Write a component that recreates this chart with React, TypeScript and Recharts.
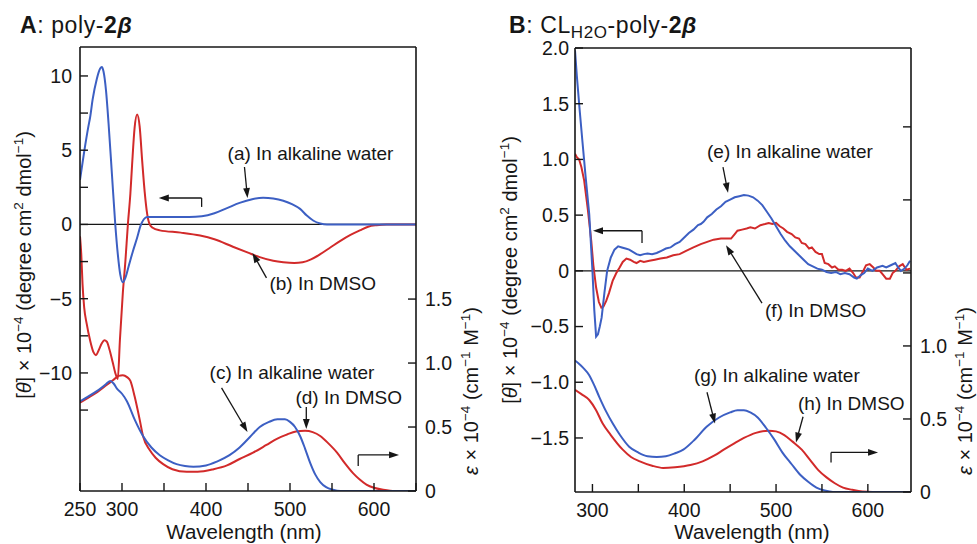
import React from "react";
import {
  ComposedChart,
  Line,
  XAxis,
  YAxis,
  ReferenceLine,
  ReferenceDot,
} from "recharts";

const FONT = '"Liberation Sans", Arial, Helvetica, sans-serif';
const BLUE = "#3c5fc3";
const RED = "#d22a2a";
const INK = "#161616";

type Pt = [number, number];

// ---- panel A: poly-2β ----
// CD, left axis ([θ] x 1e-4)
const cdWaterA: Pt[] = [
  [250, 3.0], [255, 4.9], [260, 6.6], [262, 7.2], [265, 8.4], [270, 9.8], [274, 10.5],
  [276, 10.6], [278, 10.3], [281, 9.0], [284, 6.8], [288, 3.4], [292, 0], [295, -2.0],
  [298, -3.4], [301, -3.9], [304, -3.6], [308, -2.8], [313, -1.8], [318, -0.9],
  [322, -0.1], [326, 0.35], [330, 0.5], [340, 0.5], [360, 0.5], [380, 0.5], [395, 0.55],
  [410, 0.75], [425, 1.1], [440, 1.45], [455, 1.7], [468, 1.8], [480, 1.75], [492, 1.6],
  [503, 1.35], [512, 1.05], [520, 0.6], [528, 0.25], [536, 0.07], [544, 0], [560, 0],
  [600, 0], [650, 0],
];
const cdDmsoA: Pt[] = [
  [250, -0.8], [251.5, -2.0], [253, -4.0], [255, -5.6], [258, -6.7], [262, -7.8],
  [266, -8.6], [269, -8.8], [272, -8.5], [276, -8.0], [279, -7.8], [282, -7.9],
  [285, -8.4], [289, -9.3], [292, -10.0], [295, -10.4], [297.5, -7.8], [301, -4.6],
  [304, -2.5], [307, 0], [310, 2.1], [312, 4.0], [315, 6.5], [318, 7.4], [321, 6.6],
  [324, 4.3], [327, 2.2], [330, 0.7], [333, 0], [336, -0.2], [345, -0.4], [370, -0.55],
  [393, -0.75], [410, -1.0], [432, -1.5], [450, -1.9], [464, -2.2], [480, -2.45],
  [492, -2.55], [505, -2.6], [515, -2.55], [525, -2.35], [536, -2.0], [548, -1.55],
  [560, -1.1], [572, -0.7], [583, -0.4], [593, -0.15], [603, -0.05], [615, 0], [650, 0],
];
// absorption, right axis (ε x 1e-4)
const uvWaterA: Pt[] = [
  [250, 0.70], [260, 0.74], [270, 0.78], [280, 0.83], [286, 0.86], [290, 0.84],
  [294, 0.80], [300, 0.76], [306, 0.70], [315, 0.56], [325, 0.43], [335, 0.34],
  [345, 0.28], [355, 0.24], [365, 0.21], [375, 0.195], [385, 0.19], [400, 0.20],
  [413, 0.23], [428, 0.28], [440, 0.34], [452, 0.42], [464, 0.50], [475, 0.54],
  [485, 0.56], [494, 0.56], [500, 0.54], [506, 0.50], [512, 0.43], [518, 0.33],
  [524, 0.22], [530, 0.13], [536, 0.07], [543, 0.03], [551, 0.01], [560, 0], [650, 0],
];
const uvDmsoA: Pt[] = [
  [250, 0.69], [260, 0.73], [270, 0.77], [280, 0.82], [290, 0.87], [296, 0.90],
  [301, 0.905], [306, 0.89], [310, 0.86], [315, 0.74], [321, 0.56], [325, 0.43],
  [333, 0.32], [340, 0.26], [349, 0.21], [360, 0.17], [377, 0.15], [390, 0.15],
  [409, 0.17], [425, 0.20], [440, 0.25], [456, 0.30], [472, 0.36], [485, 0.41],
  [496, 0.44], [507, 0.465], [518, 0.47], [527, 0.46], [536, 0.43], [546, 0.37],
  [556, 0.30], [565, 0.22], [575, 0.14], [583, 0.09], [591, 0.05], [600, 0.025],
  [611, 0.01], [625, 0], [650, 0],
];

// ---- panel B: CL(H2O)-poly-2β ----
const cdWaterB: Pt[] = [
  [281, 1.98], [283, 1.75], [286, 1.45], [289, 1.17], [292.5, 0.85], [296.5, 0.51],
  [300, 0], [302, -0.35], [304, -0.59], [306, -0.57], [308, -0.5], [310, -0.42],
  [313, -0.2], [316, 0], [320, 0.12], [324, 0.19], [328, 0.22], [332, 0.21], [336, 0.2],
  [340, 0.19], [344, 0.17], [348, 0.15], [352, 0.14], [356, 0.15], [360, 0.155],
  [365, 0.15], [370, 0.16], [375, 0.18], [380, 0.2], [385, 0.21], [390, 0.24],
  [395, 0.26], [400, 0.3], [405, 0.34], [410, 0.37], [415, 0.41], [418, 0.42],
  [421, 0.44], [425, 0.48], [430, 0.51], [435, 0.55], [440, 0.58], [445, 0.62],
  [450, 0.64], [455, 0.66], [460, 0.67], [465, 0.68], [470, 0.675], [475, 0.66],
  [480, 0.63], [485, 0.59], [490, 0.53], [495, 0.47], [500, 0.40], [505, 0.33],
  [510, 0.27], [515, 0.22], [520, 0.18], [525, 0.14], [530, 0.10], [535, 0.06],
  [540, 0.04], [545, 0.02], [550, 0.01], [555, -0.01], [560, -0.02], [565, -0.01],
  [570, -0.03], [575, -0.02], [580, -0.03], [585, -0.06], [588, -0.07], [592, -0.04],
  [596, -0.02], [600, 0.02], [605, 0.0], [610, 0.03], [616, 0.045], [620, 0.03],
  [625, 0.05], [630, 0.07], [633, 0.03], [636, 0.0], [640, 0.02], [643, 0.05],
  [646, 0.09],
];
const cdDmsoB: Pt[] = [
  [281, 1.05], [283, 1.02], [285.5, 1.0], [288, 0.93], [291, 0.81], [295, 0.55],
  [298.7, 0.27], [301, 0.05], [304, -0.15], [307, -0.28], [309.7, -0.33], [312, -0.32],
  [315, -0.27], [318, -0.2], [322, -0.09], [326, -0.02], [329.6, 0.03], [333, 0.08],
  [337, 0.11], [341, 0.1], [345, 0.08], [348, 0.07], [352, 0.09], [356, 0.08],
  [362, 0.09], [368, 0.1], [374, 0.11], [381, 0.12], [388, 0.14], [395, 0.15],
  [402, 0.18], [410, 0.21], [418, 0.24], [425, 0.26], [432, 0.28], [440, 0.29],
  [446, 0.29], [451, 0.29], [455, 0.33], [458, 0.36], [463, 0.37], [468, 0.38],
  [472, 0.39], [477, 0.38], [483, 0.41], [488, 0.42], [492, 0.43], [496, 0.42],
  [500, 0.43], [504, 0.40], [508, 0.38], [512, 0.35], [517, 0.33], [521, 0.30],
  [525, 0.29], [528, 0.25], [532, 0.24], [536, 0.20], [539, 0.21], [543, 0.17],
  [547, 0.15], [550, 0.15], [553, 0.07], [557, 0.06], [561, 0.03], [564, 0.04],
  [568, 0.01], [572, 0.01], [576, 0.0], [580, 0.02], [584, -0.02], [587, -0.06],
  [591, -0.06], [595, 0.0], [598, 0.05], [602, 0.06], [606, 0.03], [609, 0.0],
  [613, 0.0], [616, -0.03], [620, -0.07], [624, -0.07], [627, -0.02], [630, 0.0],
  [634, 0.04], [638, 0.06], [642, 0.01], [646, 0.02],
];
const uvWaterB: Pt[] = [
  [281, 0.90], [285, 0.88], [290, 0.85], [296.5, 0.80], [302, 0.73], [307.5, 0.65],
  [315, 0.55], [322, 0.47], [330, 0.39], [340, 0.31], [350, 0.27], [360, 0.245],
  [370, 0.24], [380, 0.245], [390, 0.265], [399, 0.29], [410, 0.35], [425, 0.45],
  [438, 0.51], [450, 0.545], [458, 0.56], [465, 0.56], [472, 0.545], [480, 0.51],
  [489, 0.44], [498, 0.36], [507, 0.27], [517, 0.19], [526, 0.12], [535, 0.07],
  [544, 0.03], [553, 0.01], [562, 0], [646, 0],
];
const uvDmsoB: Pt[] = [
  [281, 0.70], [288, 0.67], [296.5, 0.63], [304, 0.56], [311, 0.47], [320, 0.39],
  [333, 0.29], [342, 0.24], [351.6, 0.21], [365, 0.18], [377, 0.165], [390, 0.17],
  [406.7, 0.185], [420, 0.21], [433, 0.25], [443, 0.29], [455, 0.335], [465, 0.37],
  [478, 0.405], [492, 0.42], [500, 0.415], [509, 0.39], [518, 0.345], [528, 0.29],
  [537, 0.22], [546, 0.15], [555, 0.10], [564, 0.06], [573, 0.03], [583, 0.015],
  [594, 0.003], [605, 0], [646, 0],
];

// axes
const xTicksA = [250, 300, 350, 400, 450, 500, 550, 600, 650];
const xLabelsA = [250, 300, 400, 500, 600];
const xTicksB = [300, 350, 400, 450, 500, 550, 600];
const xLabelsB = [300, 400, 500, 600];
const leftTicksA = [-12.5, -10, -7.5, -5, -2.5, 0, 2.5, 5, 7.5, 10];
const leftLabelsA = [-10, -5, 0, 5, 10];
const rightTicksA = [0, 0.5, 1, 1.5];
const leftTicksB = [-1.5, -1, -0.5, 0, 0.5, 1, 1.5, 2];
const rightTicksB = [0, 0.5, 1, 1.5, 2, 2.5];
const rightLabelsB = [0, 0.5, 1];

// annotations (in left-axis data units)
const notesA = [
  { text: "(a) In alkaline water", x: 425.7, y: 4.34 },
  { text: "(b) In DMSO", x: 475.5, y: -4.41 },
  { text: "(c) In alkaline water", x: 404.3, y: -10.4 },
  { text: "(d) In DMSO", x: 506.4, y: -12.09 },
];
const arrowsA = [
  { a: [445.8, 3.87], b: [449.4, 1.78], head: true },
  { a: [472, -3.6], b: [455.3, -1.92], head: true },
  { a: [418.5, -11.01], b: [449.4, -13.97], head: true },
  { a: [519.4, -12.29], b: [519.4, -13.77], head: true },
  { a: [394.8, 1.18], b: [394.8, 1.78], head: false },
  { a: [394.8, 1.78], b: [343.8, 1.78], head: true },
  { a: [581.2, -16.26], b: [581.2, -15.52], head: false },
  { a: [581.2, -15.52], b: [629.8, -15.52], head: true },
];
const notesB = [
  { text: "(e) In alkaline water", x: 424.8, y: 1.01 },
  { text: "(f) In DMSO", x: 488.0, y: -0.41 },
  { text: "(g) In alkaline water", x: 410.6, y: -1.0 },
  { text: "(h) In DMSO", x: 523.9, y: -1.25 },
];
const arrowsB = [
  { a: [442.2, 0.93], b: [447.7, 0.7], head: true },
  { a: [484.7, -0.29], b: [445.5, 0.23], head: true },
  { a: [424.8, -1.09], b: [433.5, -1.37], head: true },
  { a: [529.4, -1.31], b: [521.7, -1.54], head: true },
  { a: [354.0, 0.25], b: [354.0, 0.36], head: false },
  { a: [354.0, 0.36], b: [300.6, 0.36], head: true },
  { a: [559.9, -1.72], b: [559.9, -1.63], head: false },
  { a: [559.9, -1.63], b: [611.1, -1.63], head: true },
];

const pts = (a: Pt[]) => a.map(([x, y]) => ({ x, y }));
const minus = (s: string) => s.replace("-", "\u2212");

const arrowShape = (head: boolean) => (p: any) => {
  const { x1, y1, x2, y2 } = p;
  if (![x1, y1, x2, y2].every((v) => Number.isFinite(v))) return <g />;
  const ang = Math.atan2(y2 - y1, x2 - x1);
  const L = 10;
  const W = 3.4;
  const bx = x2 - L * Math.cos(ang);
  const by = y2 - L * Math.sin(ang);
  const ox = -Math.sin(ang) * W;
  const oy = Math.cos(ang) * W;
  return (
    <g>
      <line x1={x1} y1={y1} x2={head ? bx + Math.cos(ang) * 2 : x2} y2={head ? by + Math.sin(ang) * 2 : y2}
        stroke={INK} strokeWidth={1.3} />
      {head && (
        <polygon points={`${x2},${y2} ${bx + ox},${by + oy} ${bx - ox},${by - oy}`} fill={INK} />
      )}
    </g>
  );
};

const noteShape = (text: string) => (p: any) => (
  <text x={p.cx} y={p.cy} fontSize={19} fontFamily={FONT} fill={INK}>{text}</text>
);

const leftTitle = (x: number, y: number) => () => (
  <text x={x} y={y} transform={`rotate(-90, ${x}, ${y})`} textAnchor="middle"
    fontSize={20} fontFamily={FONT} fill={INK}>
    [<tspan fontStyle="italic">θ</tspan>] × 10
    <tspan dy={-8} fontSize={13.5}>−4</tspan>
    <tspan dy={8}> (degree cm</tspan>
    <tspan dy={-8} fontSize={13.5}>2</tspan>
    <tspan dy={8}> dmol</tspan>
    <tspan dy={-8} fontSize={13.5}>−1</tspan>
    <tspan dy={8}>)</tspan>
  </text>
);

const rightTitle = (x: number, y: number) => () => (
  <text x={x} y={y} transform={`rotate(-90, ${x}, ${y})`} textAnchor="middle"
    fontSize={20} fontFamily={FONT} fill={INK}>
    <tspan fontStyle="italic">ε</tspan> × 10
    <tspan dy={-8} fontSize={13.5}>−4</tspan>
    <tspan dy={8}> (cm</tspan>
    <tspan dy={-8} fontSize={13.5}>−1</tspan>
    <tspan dy={8}> M</tspan>
    <tspan dy={-8} fontSize={13.5}>−1</tspan>
    <tspan dy={8}>)</tspan>
  </text>
);

const xTitle = (x: number, y: number) => () => (
  <text x={x} y={y} textAnchor="middle" fontSize={20.5} fontFamily={FONT} fill={INK}>
    Wavelength (nm)
  </text>
);

const axisLine = { stroke: INK, strokeWidth: 1.6 };
const tickLine = { stroke: INK, strokeWidth: 1.4 };
const tickStyle = { fill: INK, fontSize: 19.5, fontFamily: FONT };

type PanelProps = {
  left: number;
  width: number;
  margin: { top: number; right: number; bottom: number; left: number };
  xDomain: [number, number];
  xTicks: number[];
  xLabels: number[];
  leftDomain: [number, number];
  leftTicks: number[];
  leftFmt: (v: number) => string;
  leftMargin: number;
  rightDomain: [number, number];
  rightTicks: number[];
  rightFmt: (v: number) => string;
  xAxisHeight: number;
  series: { data: Pt[]; color: string; axis: string; curve: "monotone" | "linear" }[];
  notes: { text: string; x: number; y: number }[];
  arrows: { a: number[]; b: number[]; head: boolean }[];
  titles: { left: [number, number]; right: [number, number]; x: [number, number] };
};

function Panel(props: PanelProps) {
  const { margin } = props;
  return (
    <div style={{ position: "absolute", left: props.left, top: 0 }}>
      <ComposedChart width={props.width} height={544} margin={margin} style={{ fontFamily: FONT }}>
        <XAxis
          type="number"
          dataKey="x"
          domain={props.xDomain}
          ticks={props.xTicks}
          allowDataOverflow
          interval={0}
          height={props.xAxisHeight}
          tickSize={-8}
          tickMargin={19}
          axisLine={axisLine}
          tickLine={tickLine}
          tick={tickStyle}
          tickFormatter={(v: number) => (props.xLabels.includes(v) ? String(v) : "")}
          label={{ content: xTitle(props.titles.x[0], props.titles.x[1]) }}
        />
        <YAxis
          yAxisId="left"
          type="number"
          domain={props.leftDomain}
          ticks={props.leftTicks}
          allowDataOverflow
          interval={0}
          width={60}
          tickSize={-8}
          tickMargin={props.leftMargin}
          axisLine={axisLine}
          tickLine={tickLine}
          tick={tickStyle}
          tickFormatter={props.leftFmt}
          label={{ content: leftTitle(props.titles.left[0], props.titles.left[1]) }}
        />
        <YAxis
          yAxisId="right"
          orientation="right"
          type="number"
          domain={props.rightDomain}
          ticks={props.rightTicks}
          allowDataOverflow
          interval={0}
          width={60}
          tickSize={-8}
          tickMargin={17}
          axisLine={axisLine}
          tickLine={tickLine}
          tick={tickStyle}
          tickFormatter={props.rightFmt}
          label={{ content: rightTitle(props.titles.right[0], props.titles.right[1]) }}
        />
        <ReferenceLine yAxisId="left" y={props.leftDomain[1]} stroke={INK} strokeWidth={1.6} />
        <ReferenceLine yAxisId="left" y={0} stroke={INK} strokeWidth={1.3} />
        {props.series.map((s, i) => (
          <Line
            key={i}
            data={pts(s.data)}
            dataKey="y"
            yAxisId={s.axis}
            type={s.curve}
            stroke={s.color}
            strokeWidth={2}
            dot={false}
            activeDot={false}
            isAnimationActive={false}
          />
        ))}
        {props.arrows.map((ar, i) => (
          <ReferenceLine
            key={"ar" + i}
            yAxisId="left"
            segment={[{ x: ar.a[0], y: ar.a[1] }, { x: ar.b[0], y: ar.b[1] }]}
            shape={arrowShape(ar.head)}
          />
        ))}
        {props.notes.map((n, i) => (
          <ReferenceDot key={"n" + i} yAxisId="left" x={n.x} y={n.y} r={0} shape={noteShape(n.text)} />
        ))}
      </ComposedChart>
    </div>
  );
}

const fmtA = (v: number) => (leftLabelsA.includes(v) ? minus(String(v)) : "");
const fmtRightA = (v: number) => (v === 0 ? "0" : v.toFixed(1));
const fmtLeftB = (v: number) => (v === 0 ? "0" : minus(v.toFixed(1)));
const fmtRightB = (v: number) => (rightLabelsB.includes(v) ? (v === 0 ? "0" : v.toFixed(1)) : "");

export default function App() {
  return (
    <div style={{ position: "absolute", left: 0, top: 0, width: 977, height: 544, background: "#fff", fontFamily: FONT }}>
      <svg width={977} height={44} style={{ position: "absolute", left: 0, top: 0 }}>
        <text x={20} y={33} fontSize={23} letterSpacing={0.6} fontFamily={FONT} fill={INK}>
          <tspan fontWeight="bold">A</tspan>: poly-<tspan fontWeight="bold">2</tspan>
          <tspan fontWeight="bold" fontStyle="italic">β</tspan>
        </text>
        <text x={509} y={33} fontSize={23} letterSpacing={0.6} fontFamily={FONT} fill={INK}>
          <tspan fontWeight="bold">B</tspan>: CL
          <tspan dy={5} fontSize={17}>H2O</tspan>
          <tspan dy={-5}>-poly-</tspan>
          <tspan fontWeight="bold">2</tspan>
          <tspan fontWeight="bold" fontStyle="italic">β</tspan>
        </text>
      </svg>
      <Panel
        left={0}
        width={490}
        margin={{ top: 47, right: 14, bottom: 0, left: 20 }}
        xDomain={[250, 650]}
        xTicks={xTicksA}
        xLabels={xLabelsA}
        leftDomain={[-17.95, 11.95]}
        leftTicks={leftTicksA}
        leftFmt={fmtA}
        leftMargin={16}
        rightDomain={[0, 3.47]}
        rightTicks={rightTicksA}
        rightFmt={fmtRightA}
        xAxisHeight={53}
        series={[
          { data: cdDmsoA, color: RED, axis: "left", curve: "monotone" },
          { data: cdWaterA, color: BLUE, axis: "left", curve: "monotone" },
          { data: uvDmsoA, color: RED, axis: "right", curve: "monotone" },
          { data: uvWaterA, color: BLUE, axis: "right", curve: "monotone" },
        ]}
        notes={notesA}
        arrows={arrowsA}
        titles={{ left: [31, 265], right: [478, 391], x: [244, 539] }}
      />
      <Panel
        left={490}
        width={487}
        margin={{ top: 48, right: 6, bottom: 0, left: 25 }}
        xDomain={[281, 647]}
        xTicks={xTicksB}
        xLabels={xLabelsB}
        leftDomain={[-1.985, 2.0]}
        leftTicks={leftTicksB}
        leftFmt={fmtLeftB}
        leftMargin={14}
        rightDomain={[0, 3.04]}
        rightTicks={rightTicksB}
        rightFmt={fmtRightB}
        xAxisHeight={52}
        series={[
          { data: cdDmsoB, color: RED, axis: "left", curve: "linear" },
          { data: cdWaterB, color: BLUE, axis: "left", curve: "linear" },
          { data: uvDmsoB, color: RED, axis: "right", curve: "monotone" },
          { data: uvWaterB, color: BLUE, axis: "right", curve: "monotone" },
        ]}
        notes={notesB}
        arrows={arrowsB}
        titles={{ left: [27, 270], right: [482, 391], x: [262, 539] }}
      />
    </div>
  );
}
